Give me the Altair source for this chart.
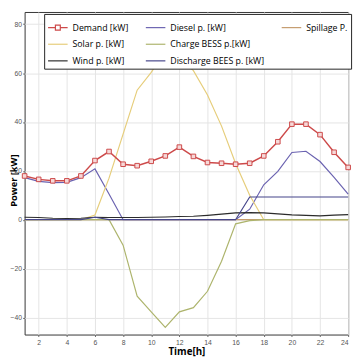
import altair as alt
import pandas as pd

hours = list(range(1, 25))
demand = [17.9, 16.5, 15.9, 15.9, 17.9, 24.2, 27.9, 22.7, 22.1, 23.9, 26.1, 29.7,
          25.9, 23.4, 23.1, 22.7, 23.1, 26.1, 31.9, 39.1, 39.1, 34.8, 27.6, 21.4]
diesel = [17.2, 15.7, 15.2, 15.3, 17.2, 20.8, 10.5, 0, 0, 0, 0, 0,
          0, 0, 0, 0, 4.3, 14.3, 19.8, 27.5, 28.0, 23.8, 17.3, 10.5]
spillage = [0] * 24
solar = [0, 0, 0, 0, 0, 1.9, 17, 35, 53, 60.3, 69, 66,
         61, 51, 38.3, 23, 10, 0, 0, 0, 0, 0, 0, 0]
charge = [0, 0, 0, 0, 0, 0, 0, -10.4, -31.3, -37.7, -44.1, -37.7,
          -36, -29.3, -17, -1.7, -0.4, 0, 0, 0, 0, 0, 0, 0]
wind = [1.0, 0.9, 0.6, 0.5, 0.6, 1.0, 0.9, 0.9, 0.9, 1.0, 1.1, 1.3,
        1.4, 1.8, 2.3, 2.8, 2.9, 2.8, 2.4, 2.0, 1.8, 1.6, 1.9, 2.1]
discharge = [0, 0, 0, 0, 0, 1.0, 0, 0, 0, 0, 0, 0,
             0, 0, 0, 0, 9.3, 9.3, 9.3, 9.3, 9.3, 9.3, 9.3, 9.3]

x_ticks = list(range(2, 25, 2))
y_ticks = [-40, -20, 0, 20, 40, 60, 80]

series_names = ["Demand [kW]", "Diesel p. [kW]", "Spillage P.",
                "Solar p. [kW]", "Charge BESS p.[kW]", " ",
                "Wind p. [kW]", "Discharge BEES p. [kW]"]
series_colors = ["#cd4a4a", "#6a62b0", "#c49a6c",
                 "#e6cd7a", "#adb46c", "transparent",
                 "#2b2b2b", "#45458a"]

series_values = {
    "Demand [kW]": demand,
    "Diesel p. [kW]": diesel,
    "Spillage P.": spillage,
    "Solar p. [kW]": solar,
    "Charge BESS p.[kW]": charge,
    "Wind p. [kW]": wind,
    "Discharge BEES p. [kW]": discharge,
}

rows = []
for name, vals in series_values.items():
    for h, v in zip(hours, vals):
        rows.append({"hour": h, "power": v, "series": name})
df = pd.DataFrame(rows)

x = alt.X("hour:Q",
          scale=alt.Scale(domain=[1, 24], nice=False, zero=False),
          axis=alt.Axis(values=x_ticks, title="Time[h]", titlePadding=1))
y = alt.Y("power:Q",
          scale=alt.Scale(domain=[-47, 85], nice=False),
          axis=alt.Axis(values=y_ticks, title="Power [kW]", titleX=-6, titleY=172,
                        titleFontSize=9.5, labelPadding=1))
color = alt.Color(
    "series:N",
    scale=alt.Scale(domain=series_names, range=series_colors),
    legend=alt.Legend(
        title=None, orient="none", legendX=20, legendY=2, columns=3,
        direction="horizontal",
        fillColor="white", strokeColor="#222", padding=3,
        columnPadding=14, rowPadding=1,
        labelFont="Open Sans", labelFontSize=9, labelColor="black",
        labelOffset=4, symbolSize=400, symbolStrokeWidth=1.2,
        symbolType=alt.ExprRef(
            expr="datum.value == 'Demand [kW]' ? 'M-1,0H-0.25M0.25,0H1M-0.25,-0.25H0.25V0.25H-0.25Z' : 'stroke'"
        ),
    ),
)

base = alt.Chart(df)
others = base.transform_filter(alt.datum.series != "Demand [kW]").mark_line(
    strokeWidth=1.2).encode(x=x, y=y, color=color)
dem_line = base.transform_filter(alt.datum.series == "Demand [kW]").mark_line(
    strokeWidth=1.5).encode(x=x, y=y, color=color)
dem_pts = base.transform_filter(alt.datum.series == "Demand [kW]").mark_point(
    shape="square", size=22, filled=False, fill="#f6d8d8", fillOpacity=1,
    stroke="#cd4a4a", strokeWidth=1, opacity=1).encode(x=x, y=y)

chart = alt.layer(others, dem_line, dem_pts).properties(
    width=331, height=330,
    autosize=alt.AutoSizeParams(type="none"),
    padding={"left": 17, "top": 0, "right": 7, "bottom": 24},
    background="white",
).configure_view(
    stroke="#333", strokeWidth=1
).configure_axis(
    labelFont="Liberation Sans", labelFontSize=7, labelColor="#555",
    titleFont="Open Sans", titleFontSize=10, titleFontWeight="bold", titleColor="black",
    grid=True, gridColor="#e4e4e4", gridWidth=1,
    domain=False, tickSize=2, tickColor="#666",
)

chart.save("out.html", embed_options={"renderer": "svg", "actions": False})
